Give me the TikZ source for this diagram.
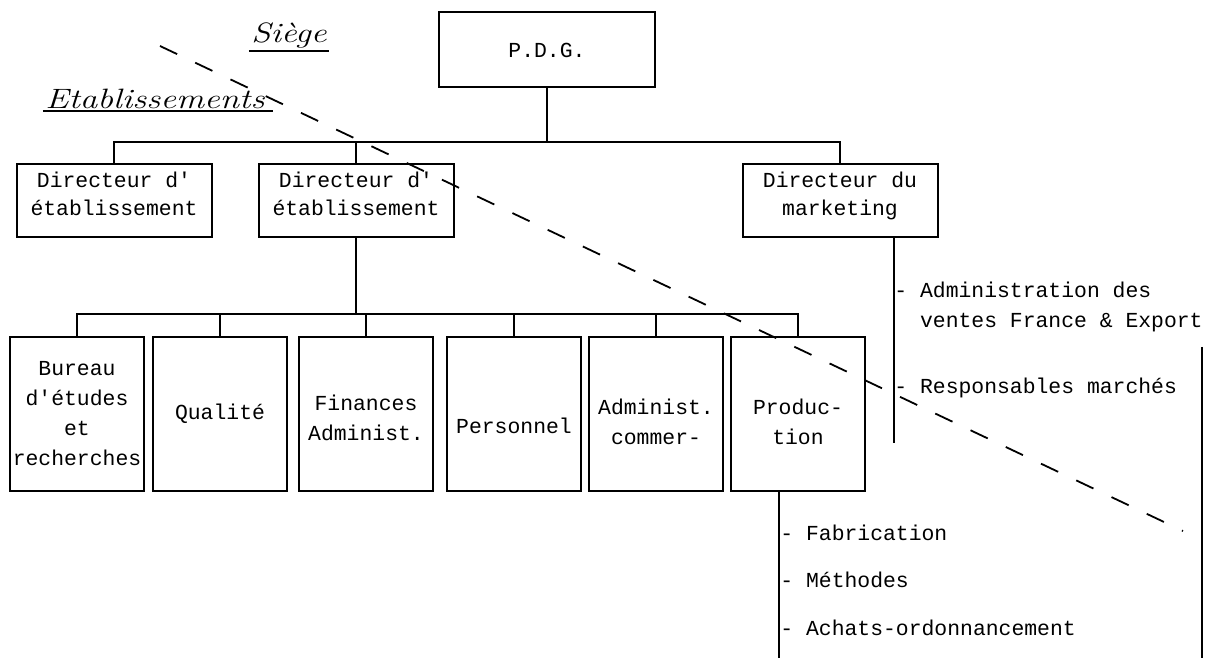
\documentclass[tikz,border=0pt]{standalone}
\usepackage{fontspec}
\setmonofont{Liberation Mono}
\usetikzlibrary{positioning}
\newcommand{\manuscrit}[1]{\scalebox{1.25}[1]{\itshape #1}}

\begin{document}
\begin{tikzpicture}[x=0.5pt, y=-0.5pt,
     boite/.style={rectangle, draw, line width=1pt, align=center, inner sep=0pt,
                   font=\ttfamily\fontsize{10.7}{14}\selectfont},
     dir/.style={boite, minimum width=97.5pt, minimum height=36.5pt},
     serv/.style={boite, minimum width=67pt, minimum height=76.5pt,
                  font=\ttfamily\fontsize{10.7}{15}\selectfont},
     liste/.style={anchor=west, inner sep=0pt, align=left,
                   font=\ttfamily\fontsize{10.7}{15}\selectfont},
     titre/.style={inner sep=1pt, font=\fontsize{14}{16}\selectfont},
     lien/.style={line width=1pt},
     coupe/.style={line width=0.9pt, dash pattern=on 9.5pt off 10pt}]
    \useasboundingbox (0,0) rectangle (1207,658);
    % siege / etablissements
    \node[titre] (siege) at (289,36) {\manuscrit{Siège}};
    \node[titre] (etabs) at (155,99) {\manuscrit{Etablissements}};
    \draw[line width=0.8pt] (siege.south west) -- (siege.south east);
    \draw[line width=0.8pt] (etabs.south west) -- ([xshift=3pt]etabs.south east);
    % direction
    \node[boite, minimum width=108pt, minimum height=37.5pt] (pdg) at (547,50) {P.D.G.};
    \node[dir] (etab1) at (114,201) {Directeur d'\\établissement\rule[-7.5pt]{0pt}{0pt}};
    \node[dir] (etab2) at (356,201) {Directeur d'\\établissement\rule[-7.5pt]{0pt}{0pt}};
    \node[dir] (mkt) at (840,201) {Directeur du\\marketing\rule[-7.5pt]{0pt}{0pt}};
    \coordinate (busH) at (547,142);
    \draw[lien] (pdg) -- (busH);
    \draw[lien] (etab1.north) -- (etab1.north |- busH) -- (mkt.north |- busH) -- (mkt.north);
    \draw[lien] (etab2.north) -- (etab2.north |- busH);
    % services de l'etablissement
    \node[serv] (bureau) at (77,414) {Bureau\\d'études\\et\\recherches};
    \node[serv] (qualite) at (220,414) {Qualité};
    \node[serv] (finances) at (366,414) {\rule{0pt}{12pt}Finances\\Administ.};
    \node[serv, text height=19pt, text depth=0pt] (personnel) at (514,414) {Personnel};
    \node[serv] (admcom) at (656,414) {\rule{0pt}{16pt}Administ.\\commer-};
    \node[serv] (prod) at (798,414) {\rule{0pt}{16pt}Produc-\\tion};
    \coordinate (busB) at (356,314);
    \draw[lien] (etab2) -- (busB);
    \draw[lien] (bureau.north) -- (bureau.north |- busB) -- (prod.north |- busB) -- (prod.north);
    \draw[lien] (qualite.north) -- (qualite.north |- busB);
    \draw[lien] (finances.north) -- (finances.north |- busB);
    \draw[lien] (personnel.north) -- (personnel.north |- busB);
    \draw[lien] (admcom.north) -- (admcom.north |- busB);
    % marketing
    \coordinate (mktbas) at (894,443);
    \draw[lien] (mktbas |- mkt.south) -- (mktbas);
    \node[liste] (adventes) at (894,307) {- Administration des\\\phantom{-}\phantom{-}ventes France \& Export.};
    \node[liste] (respmar) at (894,388) {- Responsables marchés};
    % production
    \coordinate (prodbas) at (779,658);
    \draw[lien] (prodbas |- prod.south) -- (prodbas);
    \node[liste] (fab) at (780,533) {- Fabrication};
    \node[liste] (meth) at (780,580) {- Méthodes};
    \node[liste] (achats) at (780,628) {- Achats-ordonnancement};
    % limites
    \coordinate (limH) at (1202,347);
    \coordinate (limB) at (1202,658);
    \draw[lien] (limH) -- (limB);
    \coordinate (sepA) at (160,46);
    \coordinate (sepB) at (1183,531);
    \draw[coupe] (sepA) -- (sepB);
  \end{tikzpicture}
\end{document}
